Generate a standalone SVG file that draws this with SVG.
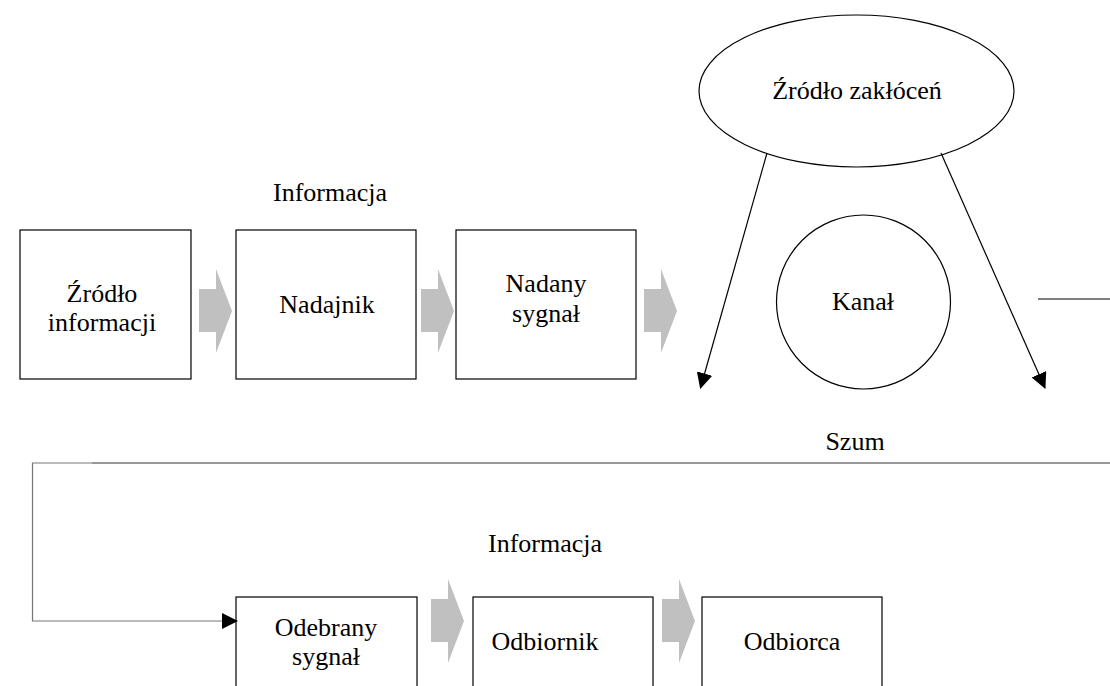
<svg xmlns="http://www.w3.org/2000/svg" width="1110" height="686" viewBox="0 0 1110 686">
<style>
text{font-family:"Liberation Serif","Times New Roman",serif;font-size:26px;fill:#000;text-anchor:middle}
.box{fill:#fff;stroke:#000;stroke-width:1.2}
.shape{fill:#fff;stroke:#000;stroke-width:1.2}
.gray{fill:#c0c0c0;stroke:none}
.line{fill:none;stroke:#000;stroke-width:1.2}
</style>
<defs>
<marker id="ah" markerUnits="userSpaceOnUse" markerWidth="16" markerHeight="16" viewBox="0 0 16 16" refX="15" refY="8" orient="auto">
<path d="M0,0 L16,8 L0,16 Z" fill="#000"/>
</marker>
</defs>
<rect width="1110" height="686" fill="#fff"/>
<g id="n-zrodlo-info"><rect class="box" x="20" y="230" width="171" height="149"/><text x="102" y="302">Źródło</text><text x="102" y="331">informacji</text></g>
<g id="n-nadajnik"><rect class="box" x="236" y="230" width="180" height="149"/><text x="327" y="313">Nadajnik</text></g>
<g id="n-nadany"><rect class="box" x="456" y="230" width="180" height="149"/><text x="546" y="292">Nadany</text><text x="546" y="322">sygnał</text></g>
<g id="n-zaklocenia"><ellipse class="shape" cx="856.5" cy="91" rx="157.5" ry="76"/><text x="857" y="99">Źródło zakłóceń</text></g>
<g id="n-kanal"><circle class="shape" cx="863.5" cy="302" r="87"/><text x="863" y="310">Kanał</text></g>
<g id="n-odebrany"><rect class="box" x="236" y="597" width="181" height="110"/><text x="326" y="636">Odebrany</text><text x="326" y="665">sygnał</text></g>
<g id="n-odbiornik"><rect class="box" x="473" y="597" width="180" height="110"/><text x="545" y="650">Odbiornik</text></g>
<g id="n-odbiorca"><rect class="box" x="702" y="597" width="180" height="110"/><text x="792" y="650">Odbiorca</text></g>
<g id="labels">
<text x="330" y="201">Informacja</text>
<text x="855" y="450">Szum</text>
<text x="545" y="552">Informacja</text>
</g>
<g id="connectors">
<path class="gray" d="M199,289 H216 V269 L232,311 L216,353 V332 H199 Z"/>
<path class="gray" d="M421,289 H438 V269 L454,311 L438,353 V332 H421 Z"/>
<path class="gray" d="M644,289 H661 V269 L677,311 L661,353 V332 H644 Z"/>
<path class="gray" d="M431,599 H448 V579 L464,621 L448,663 V642 H431 Z"/>
<path class="gray" d="M662,599 H679 V579 L695,621 L679,663 V642 H662 Z"/>
<line class="line" x1="767" y1="153" x2="700.5" y2="388" marker-end="url(#ah)"/>
<line class="line" x1="941" y1="153" x2="1045" y2="388" marker-end="url(#ah)"/>
<line class="line" x1="1038" y1="299" x2="1110" y2="299" stroke="#333"/>
<line x1="92" y1="463" x2="1110" y2="463" stroke="#333" stroke-width="1.2"/>
<path d="M92,463 H32.5 V621 H237" fill="none" stroke="#777" stroke-width="1.2" marker-end="url(#ah)"/>
</g>
</svg>
